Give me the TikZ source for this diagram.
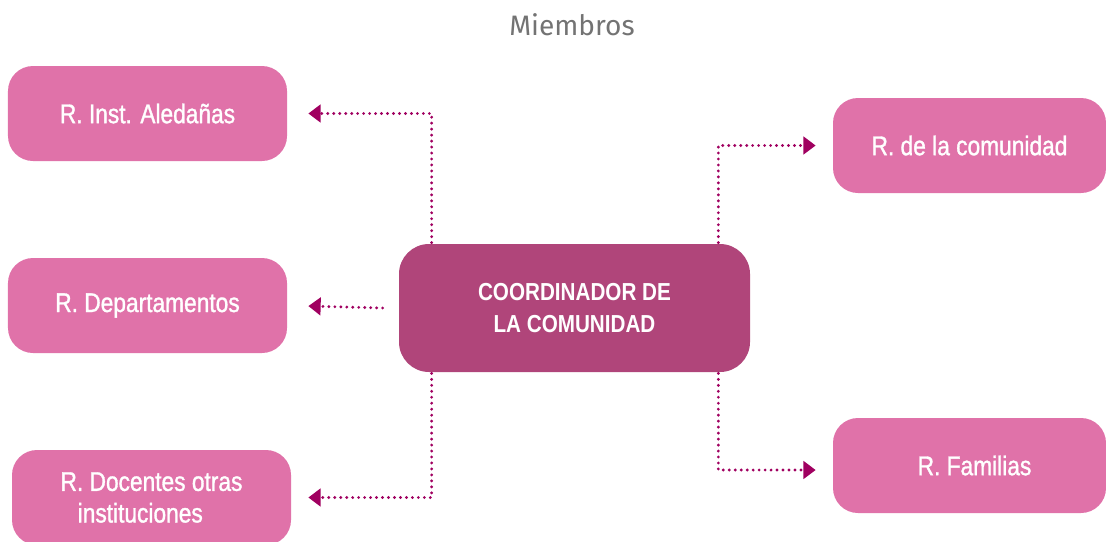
\documentclass[tikz,border=0pt]{standalone}
\usepackage{fontspec}
\setmainfont{Liberation Sans}[FakeStretch=0.84]
\newfontfamily\boxfont{Liberation Sans}[FakeStretch=0.84, FakeBold=1.2]
\newfontfamily\titlefont{Fira Sans}
\usetikzlibrary{calc, positioning, arrows.meta}
\definecolor{boxpink}{RGB}{224, 114, 169}
\definecolor{boxplum}{RGB}{176, 69, 122}
\definecolor{linkplum}{RGB}{160, 0, 96}
\definecolor{titlegray}{RGB}{115, 115, 115}

\begin{document}
\begin{tikzpicture}[x=1cm, y=1cm]
        \useasboundingbox (0, 0) rectangle (22.12, -10.82);

        \tikzstyle{rb} = [fill=boxpink, rounded corners=0.5cm, minimum width=5.58cm,
                          minimum height=1.9cm, text=white, font=\boxfont\fontsize{15.4}{18}\selectfont,
                          align=center, inner sep=0pt];
        \tikzstyle{cb} = [fill=boxplum, rounded corners=0.6cm, minimum width=7.02cm,
                          minimum height=2.56cm, text=white, font=\bfseries\fontsize{14}{18.2}\selectfont,
                          align=center, inner sep=0pt];
        \tikzstyle{ln} = [linkplum, line width=1.8pt, line cap=round, dash pattern=on 0pt off 3.4pt,
                          -{Triangle[width=10pt, length=7pt, line cap=butt]}];

        \node [titlegray, font=\titlefont\fontsize{16}{19}\selectfont] (T) at (11.44, -0.5) {Miembros};

        \node [cb] (C) at (11.49, -6.16) {COORDINADOR DE\\LA COMUNIDAD};

        \node [rb] (A) at (2.95, -2.27) {R. Inst. Aledañas};
        \node [rb] (B) at (2.95, -6.11) {R. Departamentos};
        \node [rb] (D) at (3.03, -9.95) {R. Docentes otras\\instituciones\hspace*{0.45cm}};
        \node [rb, minimum width=5.46cm] (E) at (19.39, -2.91) {R. de la comunidad};
        \node [rb, minimum width=5.46cm] (F) at (19.39, -9.31) {\hspace{0.2cm}R. Familias};

        \coordinate (CA) at ($(C.north west) + ( 0.66, 0.02)$);
        \coordinate (CD) at ($(C.south west) + ( 0.66, -0.02)$);
        \coordinate (CE) at ($(C.north east) + (-0.64, 0.02)$);
        \coordinate (CF) at ($(C.south east) + (-0.64, -0.02)$);
        \coordinate (CB) at ($(C.west) + (-0.32, 0)$);

        \draw [ln, shorten >=0.42cm] (CA) |- (A.east);
        \draw [ln, shorten >=0.42cm] (CB) -- (B.east);
        \draw [ln, shorten >=0.34cm] (CD) |- (D.east);
        \draw [ln, shorten >=0.34cm] (CE) |- (E.west);
        \draw [ln, shorten >=0.34cm] (CF) |- ($(F.west) + (0, -0.09)$);
    \end{tikzpicture}
\end{document}
